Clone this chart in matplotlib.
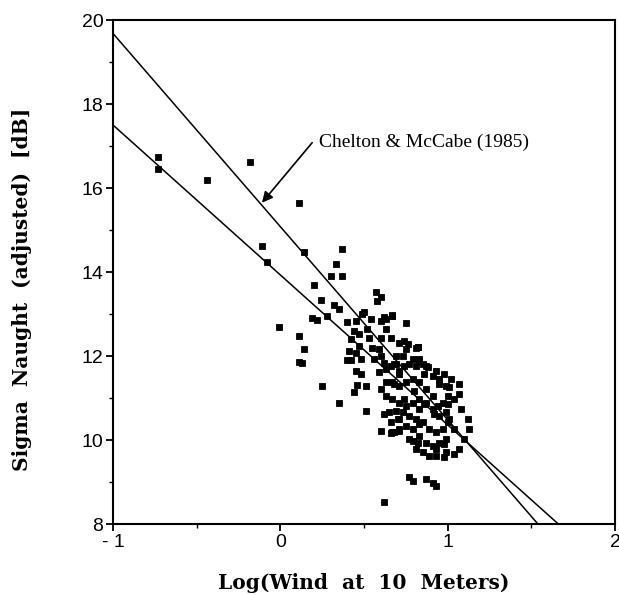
import matplotlib
matplotlib.use("Agg")
import matplotlib.pyplot as plt
from matplotlib.ticker import MultipleLocator

# fitted lines: value at x=-1 and slope
chelton_y0 = 19.68
chelton_slope = -4.60
fit_y0 = 17.50
fit_slope = -3.57

# scatter points (log wind, sigma naught)
log_wind = [
    # outliers
    -0.73, -0.73, -0.44, -0.18, -0.11, -0.08, 0.11, 0.14, 0.37, 0.33,
    0.30, 0.37, 0.20, 0.19, 0.22, -0.01, 0.11, 0.14, 0.11, 0.13,
    0.24, 0.32, 0.35, 0.28, 0.50, 0.57, 0.60, 0.58, 0.62, 0.67, 0.67, 0.75,
    0.40, 0.45, 0.25, 0.48, 0.51, 0.44, 0.35, 0.51, 0.42, 0.46,
    0.60, 0.67, 0.71, 0.77, 0.79, 0.82, 0.93, 0.62, 0.66,
    0.77, 0.87, 0.93, 0.79, 0.91, 0.62,
    # main cluster
    0.40, 0.45, 0.49, 0.44, 0.47, 0.42, 0.47, 0.41, 0.45, 0.48,
    0.53, 0.55, 0.59, 0.60, 0.56, 0.62, 0.63, 0.59, 0.66, 0.69,
    0.71, 0.74, 0.77, 0.81, 0.85, 0.71, 0.74, 0.76, 0.81, 0.63,
    0.67, 0.60, 0.63, 0.66, 0.60, 0.52, 0.54, 0.69, 0.73, 0.75,
    0.79, 0.83, 0.87, 0.91, 0.95, 0.99, 1.00, 0.97, 0.94, 0.91,
    0.87, 0.83, 0.79, 0.75, 0.71, 0.67, 0.63, 0.60, 0.63, 0.67,
    0.71, 0.75, 0.79, 0.83, 0.87, 0.91, 0.95, 0.99, 1.00, 0.97,
    0.93, 0.89, 0.85, 0.81, 0.77, 0.73, 0.69, 0.65, 0.66, 0.71,
    0.75, 0.79, 0.83, 0.87, 0.91, 0.95, 0.99, 0.71, 0.68, 0.81,
    0.85, 0.89, 0.93, 0.99, 0.83, 0.93, 0.82, 0.88,
    0.68, 0.71, 0.83, 0.86, 0.68, 0.80, 0.74, 0.86, 0.92, 0.70, 0.83,
    # right edge
    0.95, 1.01, 1.07, 1.04, 1.08, 1.12, 1.13, 1.10, 1.07, 1.04,
    0.98, 1.01, 1.04, 0.98, 1.00, 0.98, 1.02, 1.07, 0.82,
]
sigma0 = [
    # outliers
    16.75, 16.46, 16.18, 16.63, 14.63, 14.23, 15.65, 14.47, 14.54, 14.18,
    13.90, 13.90, 13.68, 12.90, 12.85, 12.68, 12.47, 12.16, 11.85, 11.83,
    13.33, 13.21, 13.11, 12.95, 13.04, 13.52, 13.40, 13.30, 12.92, 12.97, 12.95, 12.78,
    11.90, 11.64, 11.28, 11.57, 11.28, 11.14, 10.88, 10.70, 11.90, 11.31,
    10.21, 10.19, 10.26, 10.02, 9.98, 9.94, 9.63, 10.62, 10.17,
    9.12, 9.07, 8.91, 9.03, 8.98, 8.53,
    # main cluster
    12.80, 12.83, 12.99, 12.60, 12.52, 12.40, 12.24, 12.12, 12.08, 11.92,
    12.44, 12.20, 12.16, 12.00, 11.92, 11.84, 11.69, 11.61, 11.77, 11.80,
    11.57, 11.77, 11.80, 11.77, 11.80, 12.32, 12.36, 12.28, 12.20, 12.87,
    12.95, 12.83, 12.64, 12.44, 12.44, 12.64, 12.87, 12.00, 12.00, 12.16,
    11.92, 11.92, 11.77, 11.53, 11.45, 11.29, 11.05, 10.89, 10.81, 11.05,
    11.21, 11.37, 11.45, 11.37, 11.29, 11.37, 11.37, 11.21, 11.05, 10.97,
    10.89, 10.81, 10.89, 10.97, 10.89, 10.74, 10.58, 10.66, 10.42, 10.26,
    10.18, 10.26, 10.42, 10.50, 10.58, 10.66, 10.70, 10.66, 10.42, 10.50,
    10.34, 10.26, 10.10, 9.94, 9.86, 9.94, 10.02, 10.22, 10.18, 9.79,
    9.71, 9.63, 9.79, 9.71, 10.74, 11.64, 12.21, 11.73,
    11.81, 11.64, 11.88, 11.57, 11.33, 11.16, 10.97, 10.85, 10.62, 10.50, 10.38,
    # right edge
    11.33, 11.26, 11.09, 10.97, 10.74, 10.50, 10.26, 10.02, 9.79, 9.67,
    9.60, 10.50, 10.26, 9.90, 10.85, 11.57, 11.45, 11.33, 12.21,
]

x_ticks = [-1, 0, 1, 2]
x_tick_labels = ["- 1", "0", "1", "2"]
y_ticks = [8, 10, 12, 14, 16, 18, 20]

fig = plt.figure(figsize=(6.19, 5.95), dpi=100)
ax = fig.add_axes([0.1826, 0.1193, 0.811, 0.847])

xs = [-1, 2]
ax.plot(xs, [chelton_y0 + chelton_slope * (x + 1) for x in xs], color="black", lw=1.1)
ax.plot(xs, [fit_y0 + fit_slope * (x + 1) for x in xs], color="black", lw=1.1)
ax.plot(log_wind, sigma0, "s", color="black", ms=5.0, mew=0.6, zorder=3)

ax.set_xlim(-1, 2)
ax.set_ylim(8, 20)
ax.set_xticks(x_ticks)
ax.set_xticklabels(x_tick_labels)
ax.set_yticks(y_ticks)
ax.xaxis.set_minor_locator(MultipleLocator(0.5))
ax.yaxis.set_minor_locator(MultipleLocator(1))
ax.tick_params(which="major", direction="out", length=5, width=1.3,
               labelsize=14, pad=2)
ax.tick_params(which="minor", direction="out", length=3, width=1.0)
for lab in ax.get_xticklabels() + ax.get_yticklabels():
    lab.set_family("Liberation Sans")
for sp in ax.spines.values():
    sp.set_linewidth(1.5)

# label and arrow pointing at the Chelton & McCabe line
ax.text(0.23, 16.98, "Chelton & McCabe (1985)", fontsize=14,
        family="Liberation Serif", va="baseline", ha="left")
ax.annotate("", xy=(-0.11, 15.65), xytext=(0.19, 17.08),
            arrowprops=dict(arrowstyle="-|>", color="black", lw=1.2,
                            mutation_scale=16, shrinkA=0, shrinkB=0))

fig.text(0.588, 0.02, "Log(Wind  at  10  Meters)", ha="center", va="center",
         fontsize=14.5, fontweight="bold", family="DejaVu Serif")
fig.text(0.036, 0.513, "Sigma  Naught  (adjusted)  [dB]", ha="center", va="center",
         rotation=90, fontsize=14.5, fontweight="bold", family="DejaVu Serif")

fig.savefig("out.png", dpi=100)
